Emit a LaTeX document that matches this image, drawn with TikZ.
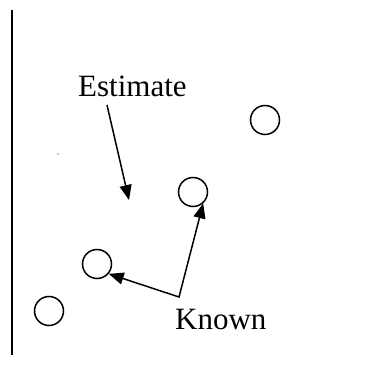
\documentclass[tikz,border=0pt]{standalone}
\usepackage{fontspec}
\setmainfont{Liberation Serif}
\usetikzlibrary{arrows.meta,positioning}
\tikzset{
 spot/.style={draw, circle, minimum size=29pt, inner sep=0pt, line width=1.5pt},
 word/.style={inner sep=0pt, anchor=base west, font=\fontsize{31}{36}\selectfont},
 pointer/.style={-{Triangle[length=15pt,width=12pt]}, line width=1.5pt},
 twopointer/.style={{Triangle[length=15pt,width=12pt]}-{Triangle[length=15pt,width=12pt]}, line width=1.5pt}
}
\begin{document}
\begin{tikzpicture}[x=1pt,y=-1pt]
\useasboundingbox (0,0) rectangle (389,366);
\draw[line width=2pt] (12,10) -- (12,355);
% known points
\node[spot] (s1) at (265,120) {};
\node[spot] (s2) at (193,192) {};
\node[spot] (s3) at (97,264) {};
\node[spot] (s4) at (49,311) {};
\fill (58,154) circle (0.6pt);
% labels
\node[word] (estimate) at (78,97) {Estimate};
\node[word] (known) at (175,330) {Known};
\coordinate (estTail) at (107,105);
\coordinate (estTip) at (129,200);
\coordinate (knownFork) at (179,297);
\draw[pointer] (estTail) -- (estTip);
\draw[twopointer] (s3.-40) -- (knownFork) -- (s2.-48);
\end{tikzpicture}
\end{document}
